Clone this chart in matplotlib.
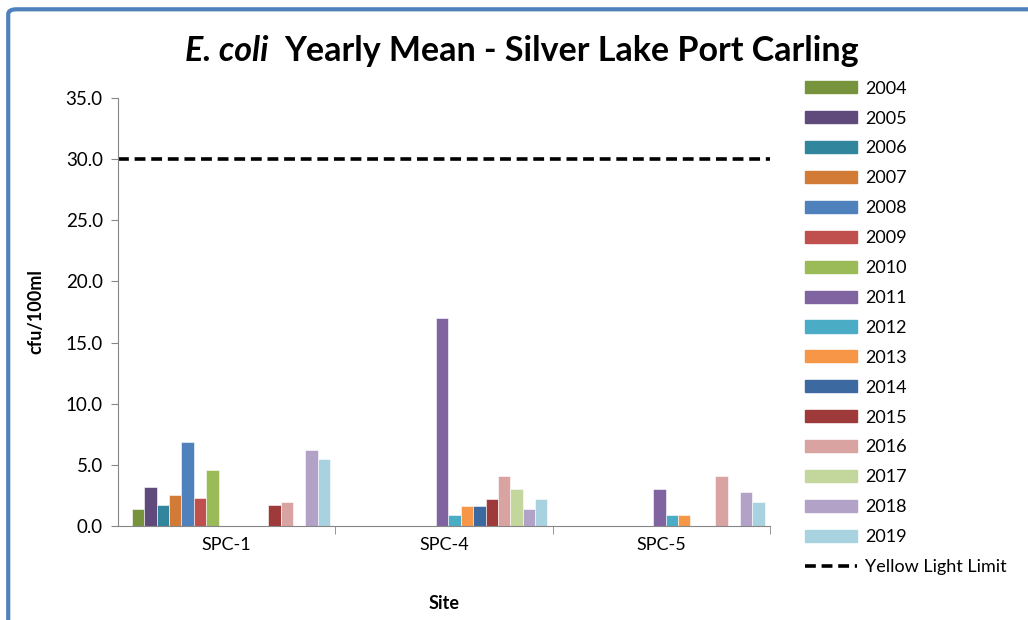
import numpy as np
import matplotlib
matplotlib.use("Agg")
import matplotlib.pyplot as plt
from matplotlib.patches import Patch, FancyBboxPatch
from matplotlib.lines import Line2D

plt.rcParams['font.family'] = ['Lato', 'DejaVu Sans']

sites = ["SPC-1", "SPC-4", "SPC-5"]
years = ["2004", "2005", "2006", "2007", "2008", "2009", "2010", "2011",
         "2012", "2013", "2014", "2015", "2016", "2017", "2018", "2019"]
nan = np.nan
# yearly mean per site, one row per year (SPC-1, SPC-4, SPC-5)
means = {
    "2004": [1.4, nan, nan],
    "2005": [3.2, nan, nan],
    "2006": [1.7, nan, nan],
    "2007": [2.5, nan, nan],
    "2008": [6.9, nan, nan],
    "2009": [2.3, nan, nan],
    "2010": [4.6, nan, nan],
    "2011": [nan, 17.0, 3.0],
    "2012": [nan, 0.9, 0.9],
    "2013": [nan, 1.6, 0.9],
    "2014": [nan, 1.6, nan],
    "2015": [1.7, 2.2, nan],
    "2016": [2.0, 4.1, 4.1],
    "2017": [nan, 3.0, nan],
    "2018": [6.2, 1.4, 2.8],
    "2019": [5.5, 2.2, 2.0],
}
limit = 30.0
colors = ["#77933C", "#604A7B", "#31859C", "#D27B37", "#4F81BD", "#C0504D",
          "#9BBB59", "#8064A2", "#4BACC6", "#F79646", "#3C6AA0", "#9E3B3A",
          "#D9A3A2", "#C3D69B", "#B3A2C7", "#A8D2E0"]

fig = plt.figure(figsize=(10.28, 6.2), dpi=100)
ax = fig.add_axes([0.1148, 0.1516, 0.6342, 0.6904])

x = np.arange(len(sites))
w = 0.057
start = -w * len(years) / 2 + 0.02
for i, yr in enumerate(years):
    ax.bar(x + start + (i + 0.5) * w, means[yr], width=w, color=colors[i],
           edgecolor="white", linewidth=0.4, label=yr)

ax.plot([-0.5, 2.5], [limit, limit], color="black", linestyle=(0, (3, 1.6)),
        linewidth=2.6, label="Yellow Light Limit")

ax.set_xlim(-0.5, 2.5)
ax.set_ylim(0, 35)
ax.set_yticks(np.arange(0, 35.1, 5))
ax.set_yticklabels([f"{v:.1f}" for v in np.arange(0, 35.1, 5)], fontsize=13.5)
ax.set_xticks(x)
ax.set_xticklabels(sites, fontsize=13)
ax.set_xticks([0.5, 1.5, 2.5], minor=True)
ax.tick_params(axis="x", which="major", length=0, pad=8)
ax.tick_params(axis="x", which="minor", length=6, color="#868686")
ax.tick_params(axis="y", length=5, color="#868686", pad=6)
for s in ["top", "right"]:
    ax.spines[s].set_visible(False)
for s in ["left", "bottom"]:
    ax.spines[s].set_color("#868686")

ax.set_ylabel("cfu/100ml", fontsize=13, fontweight="bold", labelpad=15)
ax.set_xlabel("Site", fontsize=13, fontweight="bold", labelpad=30)

fig.text(0.261, 0.917, "E. coli", fontsize=24.5, ha="right", va="center",
         fontweight="bold", style="italic")
fig.text(0.276, 0.917, "Yearly Mean - Silver Lake Port Carling", fontsize=24.5,
         ha="left", va="center", fontweight="bold")

handles = [Patch(color=c) for c in colors]
handles.append(Line2D([0], [0], color="black", linestyle=(0, (3, 1.6)), linewidth=2.6))
labels = years + ["Yellow Light Limit"]
fig.legend(handles, labels, loc="upper left", bbox_to_anchor=(0.783, 0.870),
           frameon=False, fontsize=13, handlelength=2.9, handleheight=0.65,
           labelspacing=0.77, handletextpad=0.45, borderaxespad=0, borderpad=0)

border = FancyBboxPatch((0.008, -0.05), 1.05, 1.035, boxstyle="round,pad=0,rounding_size=0.008",
                        transform=fig.transFigure, facecolor="none",
                        edgecolor="#4F81BD", linewidth=3)
fig.patches.append(border)

fig.savefig("out.png", dpi=100)
